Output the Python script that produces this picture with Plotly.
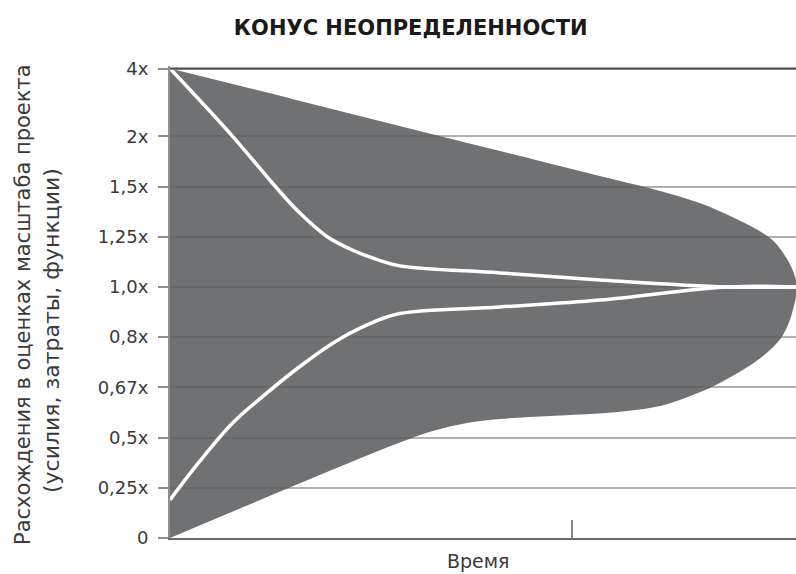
import plotly.graph_objects as go

# Y axis: evenly spaced estimate multipliers (4x sits a bit further out)
TICK_LABELS = ["0", "0,25x", "0,5x", "0,67x", "0,8x", "1,0x", "1,25x", "1,5x", "2x", "4x"]
TICK_POS = [0, 1, 2, 3, 4, 5, 6, 7, 8, 9.35]

# Time runs 0..100; one marker tick on the time axis
TIME_MARK = 64.2

# Cone outline: lower edge from the start to the nose, then upper edge back
LOWER_X = [0, 36.7, 42.0, 47.4, 52.7, 60.7, 67.1, 73.0, 78.3, 82.3, 86.3, 90.2,
           93.4, 95.8, 97.7, 98.9, 99.7, 100.2]
LOWER_Y = [0, 1.90, 2.13, 2.29, 2.37, 2.43, 2.47, 2.53, 2.63, 2.79, 2.99, 3.25,
           3.50, 3.74, 4.00, 4.30, 4.64, 5.0]
UPPER_X = [99.6, 98.5, 96.6, 93.7, 89.9, 84.6, 78.0, 70.0, 60.0, 40.0, 20.0, 0]
UPPER_Y = [5.29, 5.57, 5.89, 6.15, 6.39, 6.67, 6.92, 7.17, 7.48, 8.10, 8.73, 9.35]

# Estimate curves converging to 1.0x
HIGH_X = [0, 10.0, 16.9, 20.5, 25.0, 29.2, 33.0, 36.7, 52.7, 68.7, 89.0, 100]
HIGH_Y = [9.35, 8.0, 6.99, 6.5, 6.01, 5.73, 5.55, 5.42, 5.28, 5.14, 5.0, 5.0]
LOW_X = [0, 4.7, 10.0, 15.4, 20.7, 26.0, 31.4, 36.7, 52.7, 68.7, 89.0, 100]
LOW_Y = [0.76, 1.52, 2.29, 2.88, 3.41, 3.88, 4.24, 4.47, 4.60, 4.74, 5.0, 5.0]

FILL = "rgba(92,93,96,0.88)"

fig = go.Figure()
fig.add_trace(go.Scatter(
    x=LOWER_X + UPPER_X, y=LOWER_Y + UPPER_Y,
    mode="lines", fill="toself", fillcolor=FILL,
    line=dict(width=0, color=FILL, shape="spline", smoothing=1.0),
    hoverinfo="skip", showlegend=False,
))
for xs, ys in ((HIGH_X, HIGH_Y), (LOW_X, LOW_Y)):
    fig.add_trace(go.Scatter(
        x=xs, y=ys, mode="lines",
        line=dict(width=3.5, color="white", shape="spline", smoothing=1.0),
        hoverinfo="skip", showlegend=False,
    ))

# dark ceiling line at 4x
fig.add_shape(type="line", xref="x", yref="y", x0=0, x1=100,
              y0=TICK_POS[-1], y1=TICK_POS[-1],
              line=dict(color="#4d4d4d", width=2), layer="above")

TEXT = "#3a3a3a"
FONT = "DejaVu Sans"

fig.update_layout(
    width=796, height=574,
    margin=dict(l=170, r=0, t=66, b=36),
    paper_bgcolor="white", plot_bgcolor="white",
    title=dict(text="<b>КОНУС НЕОПРЕДЕЛЕННОСТИ</b>",
               x=0.516, xref="container", xanchor="center",
               y=1 - 28 / 574, yref="container", yanchor="middle",
               font=dict(family=FONT, size=21, color="#1a1a1a")),
    xaxis=dict(range=[0, 100], showgrid=False, zeroline=False,
               showline=True, linecolor="#6a6a6a", linewidth=2,
               ticks="inside", tickvals=[TIME_MARK], ticklen=18,
               tickcolor="#8a8a8a", tickwidth=1.5, showticklabels=False),
    yaxis=dict(range=[0, 9.4], showgrid=True, gridcolor="#b0b0b0", gridwidth=2,
               zeroline=False, showline=True, linecolor="#8e8e8e", linewidth=2,
               tickvals=TICK_POS, ticktext=TICK_LABELS,
               ticks="outside", ticklen=10, tickcolor="#8e8e8e", tickwidth=1.5,
               ticklabelstandoff=6,
               tickfont=dict(family=FONT, size=18, color=TEXT)),
    annotations=[
        dict(text="Время", xref="paper", yref="paper",
             x=(478 - 170) / 626, y=(538 - 561) / 472,
             xanchor="center", yanchor="middle", showarrow=False,
             font=dict(family=FONT, size=19, color=TEXT)),
        dict(text="Расхождения в оценках масштаба проекта", textangle=-90,
             xref="paper", yref="paper", x=(23 - 170) / 626, y=(538 - 305) / 472,
             xanchor="center", yanchor="middle", showarrow=False,
             font=dict(family=FONT, size=21, color=TEXT)),
        dict(text="(усилия, затраты, функции)", textangle=-90,
             xref="paper", yref="paper", x=(51 - 170) / 626, y=(538 - 331) / 472,
             xanchor="center", yanchor="middle", showarrow=False,
             font=dict(family=FONT, size=22, color=TEXT)),
    ],
)

fig.write_html("out.html")
